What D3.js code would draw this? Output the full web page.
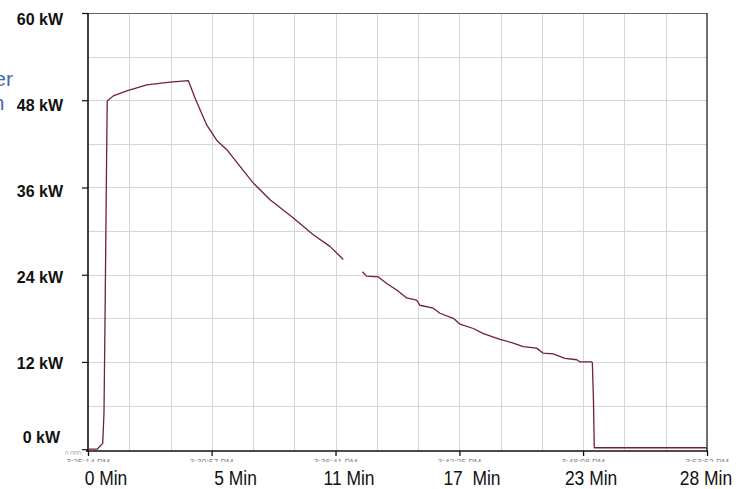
<!DOCTYPE html>
<html>
<head>
<meta charset="utf-8">
<script src="https://cdn.jsdelivr.net/npm/d3@7/dist/d3.min.js"></script>
<style>
  html, body { margin: 0; padding: 0; background: #fff; }
  svg { display: block; }
</style>
</head>
<body>
<svg id="chart" width="736" height="489"></svg>
<script>
// ---- data ----
const timeMin = [0, 0.42, 0.68, 0.74, 0.79, 0.86, 0.89, 1.17, 1.79, 2.72, 3.79, 4.64,
  4.95, 5.49, 5.95, 6.42, 7.03, 7.65, 8.42, 9.50, 10.42, 11.19, 11.81,
  12.2,
  12.69, 12.89, 13.43, 13.82, 14.28, 14.74, 15.20, 15.35, 15.97, 16.28, 16.90, 17.21,
  17.82, 18.29, 19.06, 19.67, 20.13, 20.75, 21.06, 21.52, 22.06, 22.61, 22.76, 23.30,
  23.33, 23.38, 23.42, 28.60, 28.63];
const powerKW = [0, 0, 0.8, 5.0, 18.7, 40.0, 47.9, 48.6, 49.3, 50.1, 50.5, 50.7,
  48.3, 44.6, 42.5, 41.2, 38.9, 36.6, 34.3, 31.8, 29.5, 27.9, 26.1,
  null,
  24.4, 23.8, 23.7, 22.8, 21.9, 20.8, 20.5, 19.8, 19.4, 18.7, 18.0, 17.2,
  16.6, 15.9, 15.1, 14.6, 14.1, 13.9, 13.2, 13.1, 12.5, 12.3, 12.0, 12.0,
  11.9, 6.8, 0.2, 0.2, 0.0];

const yTickValues = [60, 48, 36, 24, 12, 0];
const yTickLabels = ["60 kW", "48 kW", "36 kW", "24 kW", "12 kW", "0 kW"];
const xTickMinutes = [0, 5.717, 11.45, 17.183, 22.9, 28.633];
const xTickLabels = ["0 Min", "5 Min", "11 Min", "17  Min", "23 Min", "28 Min"];
const clockLabels = ["3:25:14 PM", "3:30:57 PM", "3:36:41 PM", "3:42:25 PM", "3:48:08 PM", "3:53:52 PM"];

// ---- layout ----
const svg = d3.select("#chart");
const pLeft = 88, pRight = 707, pTop = 13, pBottom = 451;
const x = d3.scaleLinear().domain([0, 28.633]).range([pLeft, pRight]);
const y = d3.scaleLinear().domain([-0.25, 60]).range([pBottom, pTop]);
// hand-placed label nudges (px) relative to each tick, as in the original slide
const xLabelNudge = [18, 24, 13.5, 12.5, 8, -1];

// clip paths
const defs = svg.append("defs");
defs.append("clipPath").attr("id", "clipClock")
  .append("rect").attr("x", 0).attr("y", 440).attr("width", 736).attr("height", 22);
defs.append("clipPath").attr("id", "clipZero")
  .append("rect").attr("x", 0).attr("y", 440).attr("width", 736).attr("height", 14.5);

// gridlines
const grid = svg.append("g").attr("stroke", "#d6d6d6").attr("stroke-width", 1);
const vGrid = d3.range(1, 15).map(i => i * 28.633 / 15);
grid.selectAll("line.v").data(vGrid).join("line").attr("class", "v")
  .attr("x1", d => Math.round(x(d)) + 0.5).attr("x2", d => Math.round(x(d)) + 0.5)
  .attr("y1", pTop).attr("y2", pBottom);
const hGrid = d3.range(6, 60, 6);
grid.selectAll("line.h").data(hGrid).join("line").attr("class", "h")
  .attr("x1", pLeft).attr("x2", pRight)
  .attr("y1", d => Math.round(y(d)) + 0.5).attr("y2", d => Math.round(y(d)) + 0.5);

// frame
svg.append("line").attr("x1", pLeft).attr("x2", pRight).attr("y1", pTop + 0.5).attr("y2", pTop + 0.5)
  .attr("stroke", "#666").attr("stroke-width", 1);
svg.append("line").attr("x1", pRight).attr("x2", pRight).attr("y1", pTop).attr("y2", pBottom)
  .attr("stroke", "#222").attr("stroke-width", 1.3);

// y axis
const yAxis = d3.axisLeft(y).tickValues(yTickValues).tickSize(6).tickFormat("");
const gy = svg.append("g").attr("transform", `translate(${pLeft},0)`).call(yAxis);
gy.select(".domain").remove();
gy.selectAll(".tick line").attr("stroke", "#111").attr("stroke-width", 1.2);
svg.append("line").attr("x1", pLeft).attr("x2", pLeft).attr("y1", pTop).attr("y2", pBottom + 1)
  .attr("stroke", "#111").attr("stroke-width", 1.6);

// x axis
const xAxis = d3.axisBottom(x).tickValues(xTickMinutes).tickSize(5).tickFormat("");
const gx = svg.append("g").attr("transform", `translate(0,${pBottom})`).call(xAxis);
gx.select(".domain").remove();
gx.selectAll(".tick line").attr("stroke", "#111").attr("stroke-width", 1.3);
svg.append("line").attr("x1", pLeft - 2).attr("x2", pRight + 1).attr("y1", pBottom).attr("y2", pBottom)
  .attr("stroke", "#111").attr("stroke-width", 1.6);

// tiny clock labels (cut off)
svg.append("g").attr("clip-path", "url(#clipClock)")
  .selectAll("text").data(clockLabels).join("text")
  .attr("x", (d, i) => x(xTickMinutes[i])).attr("y", 464.5)
  .attr("text-anchor", "middle")
  .attr("font-family", "Liberation Sans, Arial, sans-serif")
  .attr("font-size", 8.5).attr("fill", "#888")
  .text(d => d);
svg.append("g").attr("clip-path", "url(#clipZero)")
  .append("text").attr("x", 81).attr("y", 456).attr("text-anchor", "end")
  .attr("font-family", "Liberation Sans, Arial, sans-serif")
  .attr("font-size", 6.5).attr("fill", "#999").text("0.000");

// y labels
svg.append("g").selectAll("text").data(yTickValues).join("text")
  .attr("x", d => d === 0 ? 60 : 63)
  .attr("y", d => d === 0 ? y(d) - 6 : y(d) + 12 - (60 - d) / 12 * 1.2)
  .attr("text-anchor", "end")
  .attr("font-family", "Liberation Sans, Arial, sans-serif")
  .attr("font-weight", "bold").attr("font-size", 16).attr("fill", "#111")
  .text((d, i) => yTickLabels[i]);

// x labels (condensed)
svg.append("g").selectAll("text").data(xTickMinutes).join("text")
  .attr("transform", (d, i) => `translate(${x(d) + xLabelNudge[i]},484.5) scale(0.85,1)`)
  .attr("text-anchor", "middle")
  .style("white-space", "pre")
  .attr("font-family", "Liberation Sans, Arial, sans-serif")
  .attr("font-size", 20.5).attr("fill", "#111")
  .text((d, i) => xTickLabels[i]);

// cropped text at left edge
svg.append("text").attr("x", 13).attr("y", 86).attr("text-anchor", "end")
  .attr("font-family", "Liberation Sans, Arial, sans-serif")
  .attr("font-size", 21).attr("fill", "#3d6db2").text("er");
svg.append("text").attr("x", 4.5).attr("y", 110).attr("text-anchor", "end")
  .attr("font-family", "Liberation Sans, Arial, sans-serif")
  .attr("font-size", 21).attr("fill", "#3d6db2").text("n");

// power line
const pts = timeMin.map((t, i) => ({ t, v: powerKW[i] }));
const line = d3.line().defined(d => d.v !== null)
  .x(d => x(d.t)).y(d => y(d.v));
svg.append("path").datum(pts)
  .attr("d", line)
  .attr("fill", "none")
  .attr("stroke", "#6e2330")
  .attr("stroke-width", 1.3)
  .attr("stroke-linejoin", "round");
</script>
</body>
</html>
